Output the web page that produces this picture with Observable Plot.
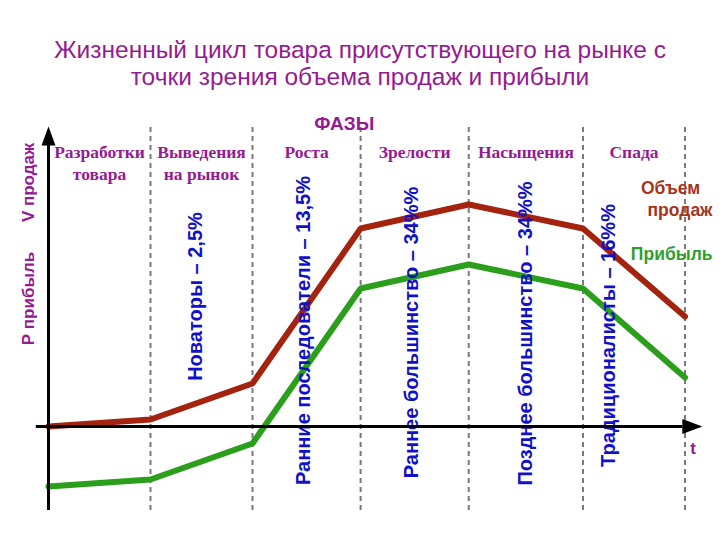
<!DOCTYPE html>
<html>
<head>
<meta charset="utf-8">
<script src="https://cdn.jsdelivr.net/npm/d3@7"></script>
<script src="https://cdn.jsdelivr.net/npm/@observablehq/plot@0.6"></script>
<style>
  html, body { margin: 0; padding: 0; background: #ffffff; }
  #title {
    width: 720px; height: 100px; box-sizing: border-box; padding-top: 36px;
    text-align: center; font-family: "Liberation Sans", Arial, sans-serif;
    font-size: 24.5px; line-height: 27px; color: #941b94;
  }
  #chart svg { display: block; }
</style>
</head>
<body>
<div id="title">Жизненный цикл товара присутствующего на рынке с<br>точки зрения объема продаж и прибыли</div>
<div id="chart"></div>
<script>
// ---- data ----
const phaseBounds = [0, 1, 2, 3.06, 4.12, 5.24, 6.24];          // time positions of phase boundaries
const salesVolume = [0, 7, 43, 198, 222, 198, 110];             // V продаж
const profit      = [-60, -53, -17, 138, 162, 138, 49];          // Р прибыль

const phaseLine1 = ["Разработки", "Выведения", "Роста", "Зрелости", "Насыщения", "Спада"];
const phaseLine2 = ["товара", "на рынок", "", "", "", ""];

const adopterLabels = ["Новаторы – 2,5%", "Ранние последователи – 13,5%", "Раннее большинство – 34%%", "Позднее большинство – 34%%", "Традиционалисты – 16%%"];
const adopterT = [1.44, 2.50, 3.56, 4.68, 5.49];
const adopterV = [130, 96, 94, 93, 91];

const axisTExtent = [-0.12, 6.22];   // horizontal axis line
const axisVExtent = [-84, 281];      // vertical axis line
const guideVExtent = [-84, 299];     // dashed phase guides
const arrowTipT = 6.41;
const arrowTipV = 300;

// ---- derived tables ----
const sales = phaseBounds.map((t, i) => ({t, v: salesVolume[i]}));
const prof = phaseBounds.map((t, i) => ({t, v: profit[i]}));
const phases = phaseLine1.map((l1, i) => ({t: (phaseBounds[i] + phaseBounds[i + 1]) / 2, l1, l2: phaseLine2[i]}));
const adopters = adopterLabels.map((label, i) => ({t: adopterT[i], v: adopterV[i], label}));

const headRight = {draw(ctx) { ctx.moveTo(0, 0); ctx.lineTo(-20, -7.5); ctx.lineTo(-20, 7.5); ctx.closePath(); }};
const headUp = {draw(ctx) { ctx.moveTo(0, 0); ctx.lineTo(-7, 19); ctx.lineTo(7, 19); ctx.closePath(); }};

const sans = "Liberation Sans, Arial, sans-serif";
const serif = "Liberation Serif, Times New Roman, serif";
const purple = "#941b94";
const blue = "#1010c8";
const red = "#a3230f";
const green = "#2b9f1b";

const chart = Plot.plot({
  width: 720,
  height: 440,
  marginTop: 0, marginBottom: 0, marginLeft: 0, marginRight: 0,
  style: {background: "white"},
  x: {domain: [-0.4706, 6.5882], axis: null},
  y: {domain: [-114, 326], axis: null},
  marks: [
    Plot.ruleX(phaseBounds.slice(1), {y1: guideVExtent[0], y2: guideVExtent[1], stroke: "#7a7a7a", strokeWidth: 2, strokeDasharray: "5,4"}),
    Plot.line(sales, {x: "t", y: "v", stroke: red, strokeWidth: 6, strokeLinejoin: "miter"}),
    Plot.line(prof, {x: "t", y: "v", stroke: green, strokeWidth: 6, strokeLinejoin: "miter"}),
    Plot.text(adopters, {x: "t", y: "v", text: "label", rotate: -90, fill: blue, fontFamily: sans, fontWeight: "bold", fontSize: 20}),
    Plot.ruleY([0], {x1: axisTExtent[0], x2: axisTExtent[1], stroke: "black", strokeWidth: 3}),
    Plot.ruleX([0], {y1: axisVExtent[0], y2: axisVExtent[1], stroke: "black", strokeWidth: 3}),
    Plot.dot([{t: arrowTipT, v: 0}], {x: "t", y: "v", symbol: headRight, r: 5, fill: "black", stroke: "none"}),
    Plot.dot([{t: 0, v: arrowTipV}], {x: "t", y: "v", symbol: headUp, r: 5, fill: "black", stroke: "none"}),
    Plot.text(["ФАЗЫ"], {x: 2.9, y: 303, fill: purple, fontFamily: sans, fontWeight: "bold", fontSize: 19}),
    Plot.text(phases, {x: "t", y: 274, text: "l1", fill: purple, fontFamily: serif, fontWeight: "bold", fontSize: 17.5}),
    Plot.text(phases, {x: "t", y: 252, text: "l2", fill: purple, fontFamily: serif, fontWeight: "bold", fontSize: 17.5}),
    Plot.text(["V продаж"], {x: -0.2, y: 244, rotate: -90, fill: purple, fontFamily: sans, fontWeight: "bold", fontSize: 17}),
    Plot.text(["Р прибыль"], {x: -0.2, y: 128, rotate: -90, fill: purple, fontFamily: sans, fontWeight: "bold", fontSize: 17}),
    Plot.text(["t"], {x: 6.32, y: -22, fill: purple, fontFamily: sans, fontWeight: "bold", fontSize: 17}),
    Plot.text(["Объем"], {x: 6.39, y: 238, textAnchor: "end", fill: "#a5341b", fontFamily: sans, fontWeight: "bold", fontSize: 17.5}),
    Plot.text(["продаж"], {x: 6.51, y: 216, textAnchor: "end", fill: "#a5341b", fontFamily: sans, fontWeight: "bold", fontSize: 17.5}),
    Plot.text(["Прибыль"], {x: 6.51, y: 172, textAnchor: "end", fill: "#2ea02e", fontFamily: sans, fontWeight: "bold", fontSize: 17.5})
  ]
});
document.getElementById("chart").appendChild(chart);
</script>
</body>
</html>
